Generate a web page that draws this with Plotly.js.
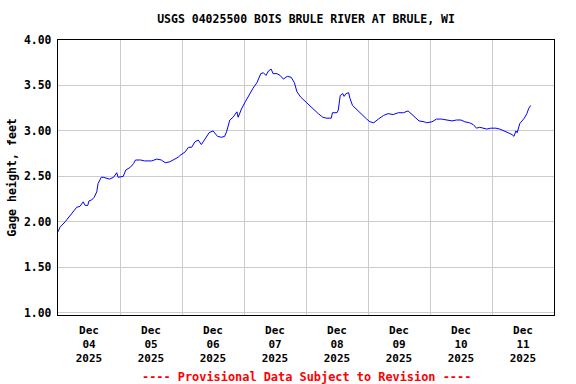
<!DOCTYPE html>
<html>
<head>
<meta charset="utf-8">
<script src="https://cdn.plot.ly/plotly-3.0.1.min.js"></script>
<style>html,body{margin:0;padding:0;background:#fff}#chart{width:576px;height:384px}</style>
</head>
<body>
<div id="chart"></div>
<script>
// Hours after 2025-12-04 00:00 (local station time)
const hoursFromStart = [0,0.75,2.75,4.75,6.5,7.25,8.5,9.75,10.5,11.5,12,13,14,15,15.5,16.75,17.5,19.5,20,21.5,22.75,23.25,25.25,26.25,28,29.25,30,32,33.5,36.25,38.25,40,41.5,43.25,44.75,46.5,47.25,49.25,50.5,51.75,53,54.25,55.5,57,58.5,60,60.75,61.75,63.25,64.5,65.25,66.5,67.75,69.25,69.75,71,72.5,74.25,75.5,77,78.5,79.5,80.5,81.5,82.5,83.25,84.75,86,87.25,88.75,90.25,91.5,92.5,94,95.5,97,98.75,100.75,102.5,104,105.75,106.25,108,108.5,109.25,110.25,110.75,111.5,112.5,113,114,115.75,117,118.25,119.5,120.75,122.25,124,126,127.75,129.75,131.75,133.75,135.5,137,138.25,139.75,141.75,142.75,144.75,146.5,148.5,150.5,152.5,154.25,156,157.5,159.25,160.75,162,163.25,164.75,166,167.5,169.5,171,173,174.25,175.75,176.5,177.25,177.75,178.75,180.5,181.5,182.25,183];
const gageHeight = [1.89,1.94,2.00,2.07,2.14,2.16,2.17,2.22,2.18,2.18,2.23,2.24,2.27,2.33,2.42,2.49,2.49,2.48,2.47,2.49,2.54,2.49,2.50,2.57,2.60,2.64,2.68,2.68,2.67,2.67,2.69,2.68,2.65,2.66,2.68,2.71,2.73,2.77,2.82,2.82,2.88,2.90,2.85,2.91,2.98,3.00,2.97,2.94,2.93,2.94,2.99,3.12,3.15,3.21,3.15,3.24,3.32,3.41,3.47,3.53,3.63,3.64,3.61,3.66,3.68,3.63,3.63,3.61,3.57,3.60,3.59,3.53,3.43,3.37,3.33,3.28,3.24,3.19,3.15,3.14,3.14,3.20,3.20,3.23,3.39,3.41,3.38,3.41,3.42,3.36,3.28,3.23,3.20,3.16,3.13,3.10,3.09,3.13,3.17,3.19,3.18,3.20,3.20,3.22,3.18,3.15,3.11,3.10,3.09,3.10,3.13,3.13,3.12,3.11,3.12,3.12,3.10,3.09,3.07,3.03,3.04,3.03,3.02,3.03,3.03,3.02,3.00,2.98,2.96,2.94,3.00,2.98,3.08,3.14,3.19,3.25,3.28];
const yTickVals = [1.0,1.5,2.0,2.5,3.0,3.5,4.0];
const yTickText = ["1.00","1.50","2.00","2.50","3.00","3.50","4.00"];
const titleText = "USGS 04025500 BOIS BRULE RIVER AT BRULE, WI";
const yTitle = "Gage height, feet";
const footer = "---- Provisional Data Subject to Revision ----";

function pad(n){return (n<10?"0":"")+n;}
const times = hoursFromStart.map(h => {
  const totalMin = Math.round(h*60);
  const day = 4 + Math.floor(totalMin/1440);
  const rem = totalMin % 1440;
  return "2025-12-" + pad(day) + " " + pad(Math.floor(rem/60)) + ":" + pad(rem%60);
});

const fam = "DejaVu Sans Mono, Liberation Mono, monospace";
const mk = (size, color) => ({family: fam, size: size, color: color || "#000", weight: "bold"});

const trace = {x: times, y: gageHeight, type: "scatter", mode: "lines",
  line: {color: "#0000ff", width: 1}, hoverinfo: "skip"};

const layout = {
  width: 576, height: 384,
  margin: {l: 58, r: 22, t: 40, b: 69},
  paper_bgcolor: "#fff", plot_bgcolor: "#fff",
  showlegend: false,
  font: mk(11.4),
  title: {text: titleText, font: mk(11.5), xref: "paper", x: 0.5, xanchor: "center",
          yref: "container", y: 1 - 19/384, yanchor: "middle"},
  xaxis: {type: "date", range: ["2025-12-04 00:00", "2025-12-12 00:00"],
    tick0: "2025-12-04", dtick: 86400000, ticklabelmode: "period",
    tickformat: "%b<br>%d<br>%Y", ticks: "", ticklabelstandoff: 4,
    showgrid: true, gridcolor: "#cccccc", gridwidth: 1,
    showline: true, linecolor: "#000", linewidth: 1.3, mirror: true, zeroline: false,
    tickfont: mk(11), fixedrange: true},
  yaxis: {range: [0.975, 4.0], tickvals: yTickVals, ticktext: yTickText, ticks: "outside", ticklen: 3, tickcolor: "#fff",
    showgrid: true, gridcolor: "#cccccc", gridwidth: 1,
    showline: true, linecolor: "#000", linewidth: 1.3, mirror: true, zeroline: false,
    tickfont: mk(11.4), title: {text: yTitle, font: mk(11.6), standoff: 5}, fixedrange: true},
  annotations: [{text: footer, xref: "paper", x: 0.5, xanchor: "center", yref: "paper", y: -(377-315)/275, yanchor: "middle",
    showarrow: false, font: mk(11.9, "#ff0000")}]
};

Plotly.newPlot("chart", [trace], layout, {staticPlot: true, displayModeBar: false});
</script>
</body>
</html>
